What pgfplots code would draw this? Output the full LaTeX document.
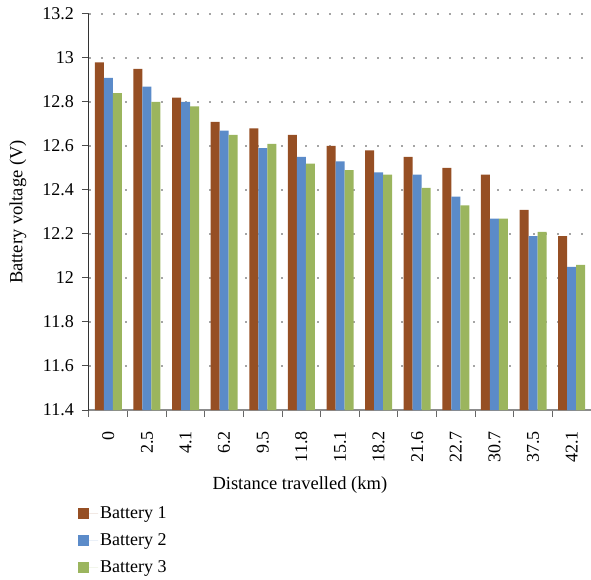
\documentclass[border=0pt]{standalone}
\usepackage{pgfplots}
\pgfplotsset{compat=1.18}
\usepackage{fontspec}
\setmainfont{Liberation Serif}
\definecolor{bOne}{RGB}{150,79,36}
\definecolor{bTwo}{RGB}{91,139,201}
\definecolor{bThree}{RGB}{155,181,94}
\definecolor{gridgray}{RGB}{165,165,165}
\begin{document}
\fontsize{18pt}{22pt}\selectfont
\begin{tikzpicture}
\path[use as bounding box] (-89pt,-170pt) rectangle (502pt,410pt);
\begin{axis}[
  at={(0pt,0pt)}, anchor=south west,
  scale only axis, width=502pt, height=396pt,
  ybar=0pt, bar width=9pt,
  ymin=11.4, ymax=13.2,
  xmin=-0.5, xmax=12.5,
  axis lines*=left,
  /pgf/number format/assume math mode=true,
  ytick={11.4,11.6,11.8,12,12.2,12.4,12.6,12.8,13,13.2},
  yticklabels={11.4,11.6,11.8,12,12.2,12.4,12.6,12.8,13,13.2},
  xtick={0,...,12},
  xticklabels={0,2.5,4.1,6.2,9.5,11.8,15.1,18.2,21.6,22.7,30.7,37.5,42.1},
  minor xtick={-0.5,0.5,...,12.5},
  tick align=outside,
  major x tick style={draw=none},
  minor tick length=7pt,
  major tick length=7pt,
  y axis line style={draw=black!80, line width=1pt},
  x axis line style={draw=black!45, line width=1.5pt},
  ytick style={draw=black!70, line width=1pt},
  minor x tick style={draw=black!60, line width=1pt},
  ymajorgrids,
  major grid style={draw=gridgray, line width=2pt, dash pattern=on 2pt off 10pt},
  xticklabel style={rotate=90, anchor=east, font=\fontsize{18pt}{22pt}\selectfont, xshift=-8pt},
  yticklabel style={font=\fontsize{18pt}{22pt}\selectfont, xshift=-2pt},
  xlabel={Distance travelled (km)},
  ylabel={Battery voltage (V)},
  xlabel style={at={(axis description cs:0.42,-0.19)}, anchor=center, font=\fontsize{18.5pt}{22pt}\selectfont},
  ylabel style={at={(axis description cs:-0.1414,0.5)}, anchor=center, font=\fontsize{18.5pt}{22pt}\selectfont},
  legend style={at={(axis description cs:0,0)}, anchor=north west, xshift=-14pt, yshift=-92pt,
    draw=none, fill=none, font=\fontsize{18pt}{22pt}\selectfont, row sep=8.5pt,
    /tikz/every even column/.append style={column sep=0pt}},
  legend cell align=left,
  legend image code/.code={\fill[#1] (0pt,-5.5pt) rectangle (11pt,5.5pt); \path (0pt,0pt) -- (20pt,0pt);},
]
\addplot[fill=bOne, draw=none] coordinates {(0,12.98) (1,12.95) (2,12.82) (3,12.71) (4,12.68) (5,12.65) (6,12.60) (7,12.58) (8,12.55) (9,12.50) (10,12.47) (11,12.31) (12,12.19)};
\addplot[fill=bTwo, draw=none] coordinates {(0,12.91) (1,12.87) (2,12.80) (3,12.67) (4,12.59) (5,12.55) (6,12.53) (7,12.48) (8,12.47) (9,12.37) (10,12.27) (11,12.19) (12,12.05)};
\addplot[fill=bThree, draw=none] coordinates {(0,12.84) (1,12.80) (2,12.78) (3,12.65) (4,12.61) (5,12.52) (6,12.49) (7,12.47) (8,12.41) (9,12.33) (10,12.27) (11,12.21) (12,12.06)};
\legend{Battery 1, Battery 2, Battery 3}
\end{axis}
\end{tikzpicture}
\end{document}
